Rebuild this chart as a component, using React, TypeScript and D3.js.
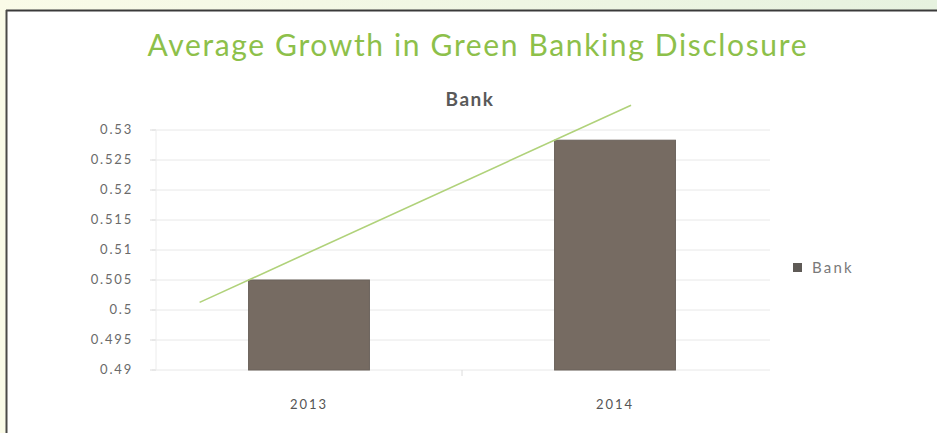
import React from "react";
import * as d3 from "d3";

const categories = ["2013", "2014"];
const bankValues = [0.505, 0.5283];
const yTicks = [0.49, 0.495, 0.5, 0.505, 0.51, 0.515, 0.52, 0.525, 0.53];
const yTickLabels = ["0.49", "0.495", "0.5", "0.505", "0.51", "0.515", "0.52", "0.525", "0.53"];
const seriesName = "Bank";
const trendBackward = 0.16;
const trendForward = 0.25;

const W = 937;
const H = 433;

export default function App() {
  const x = d3.scaleBand<string>().domain(categories).range([156, 768]).paddingInner(0.605).paddingOuter(0.3025);
  const y = d3.scaleLinear().domain([0.49, 0.53]).range([370, 130]);
  const step = x.step();

  const n = bankValues.length;
  const xs = bankValues.map((_, i) => i);
  const mx = d3.mean(xs) as number;
  const my = d3.mean(bankValues) as number;
  const slope = d3.sum(xs.map((xi, i) => (xi - mx) * (bankValues[i] - my))) / d3.sum(xs.map((xi) => (xi - mx) ** 2));
  const icpt = my - slope * mx;
  const t0 = -trendBackward;
  const t1 = n - 1 + trendForward;
  const x0 = x(categories[0]) as number;
  const toPx = (t: number) => x0 + t * step;
  const trend = d3.line<number>().x((t) => toPx(t)).y((t) => y(icpt + slope * t))([t0, t1]);

  const font = "Lato, 'Open Sans', sans-serif";

  return (
    <svg width={W} height={H} style={{ position: "absolute", left: 0, top: 0 }} xmlns="http://www.w3.org/2000/svg">
      <defs>
        <linearGradient id="bg" x1="0" y1="0" x2="1" y2="0">
          <stop offset="0" stopColor="#fafbe8" />
          <stop offset="1" stopColor="#e6f2df" />
        </linearGradient>
      </defs>
      <rect x={0} y={0} width={W} height={H} fill="url(#bg)" />
      <rect x={6} y={10} width={W - 6} height={H - 10} fill="#ffffff" />
      <line x1={6} x2={W} y1={10.5} y2={10.5} stroke="#3a3a3a" strokeWidth={2} />
      <line x1={6.5} x2={6.5} y1={10} y2={H} stroke="#4a4a48" strokeWidth={2} />

      <text x={477} y={56} textAnchor="middle" fontFamily={font} fontSize={30} fill="#8dc04a" textLength={659} lengthAdjust="spacing">
        Average Growth in Green Banking Disclosure
      </text>
      <text x={470} y={106} textAnchor="middle" fontFamily={font} fontWeight={700} fontSize={19} fill="#595959" letterSpacing={1.5}>
        {seriesName}
      </text>

      {yTicks.map((t, i) => (
        <g key={t}>
          <line x1={152} x2={770} y1={y(t)} y2={y(t)} stroke="#e8e8e8" strokeWidth={1} />
          <line x1={150} x2={156} y1={y(t)} y2={y(t)} stroke="#dcdcdc" strokeWidth={1} />
          <text x={133} y={y(t) + 4} textAnchor="end" fontFamily={font} fontSize={13} fill="#6a6a6a" letterSpacing={1.8}>
            {yTickLabels[i]}
          </text>
        </g>
      ))}
      <line x1={156} x2={156} y1={130} y2={370} stroke="#ececec" strokeWidth={1} />
      <line x1={462} x2={462} y1={370} y2={376} stroke="#dcdcdc" strokeWidth={1} />

      {categories.map((c, i) => (
        <g key={c}>
          <rect
            x={x(c) as number}
            y={y(bankValues[i])}
            width={x.bandwidth()}
            height={y(0.49) - y(bankValues[i])}
            fill="#766b62"
            stroke="#6a625b"
            strokeWidth={1}
          />
          <text x={(x(c) as number) + x.bandwidth() / 2} y={409} textAnchor="middle" fontFamily={font} fontSize={13} fill="#555555" letterSpacing={2}>
            {c}
          </text>
        </g>
      ))}

      <path d={trend || ""} fill="none" stroke="#b0d27a" strokeWidth={1.6} />

      <rect x={793} y={263} width={9} height={9} fill="#5e5a56" />
      <text x={812} y={273} fontFamily={font} fontSize={15} fill="#7a7a7a" letterSpacing={2.2}>
        {seriesName}
      </text>
    </svg>
  );
}
